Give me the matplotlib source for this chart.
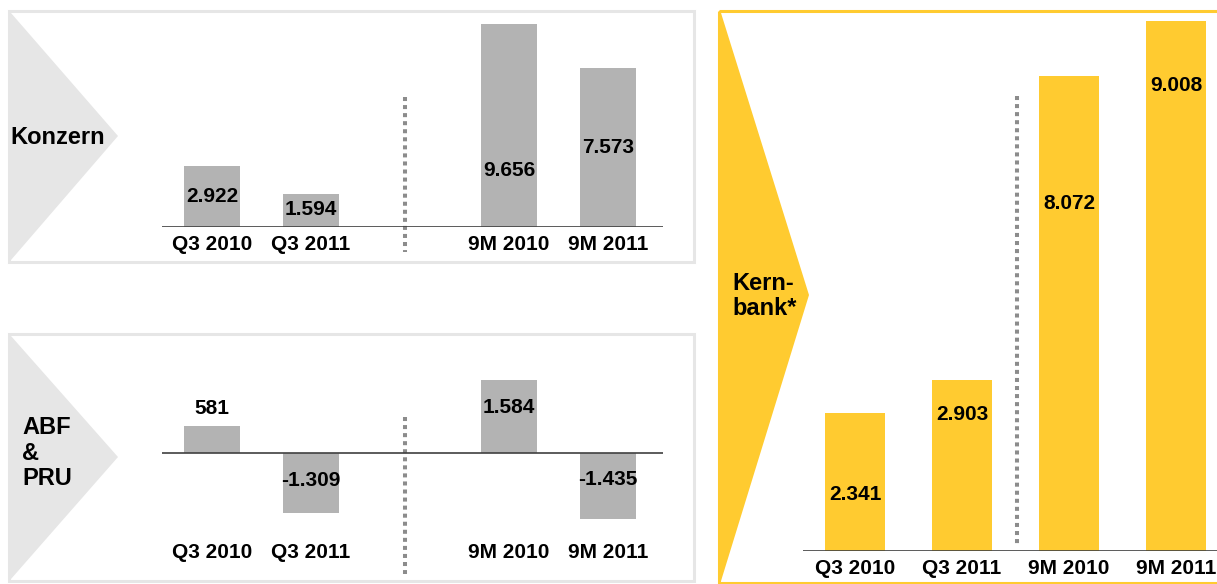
import matplotlib
matplotlib.use("Agg")
import matplotlib.pyplot as plt
from matplotlib.patches import Polygon, Rectangle
from matplotlib.lines import Line2D
from matplotlib.transforms import Affine2D, blended_transform_factory

# Data
categories = ["Q3 2010", "Q3 2011", "9M 2010", "9M 2011"]
konzern = [2.922, 1.594, 9.656, 7.573]
abf_pru = [0.581, -1.309, 1.584, -1.435]
kernbank = [2.341, 2.903, 8.072, 9.008]
konzern_labels = ["2.922", "1.594", "9.656", "7.573"]
abf_labels = ["581", "-1.309", "1.584", "-1.435"]
kernbank_labels = ["2.341", "2.903", "8.072", "9.008"]

W, H = 1217, 584
GREY_BAR = "#b3b3b3"
GREY_LIGHT = "#e6e6e6"
YELLOW = "#ffcb30"
LINE = "#404040"
DOT = "#8c8c8c"
FONT = "Liberation Sans"

plt.rcParams["font.family"] = [FONT, "DejaVu Sans"]

fig = plt.figure(figsize=(W / 100, H / 100), dpi=100)
fig.patch.set_facecolor("white")

# pixel transform, origin top-left
pxT = Affine2D().scale(1 / W, -1 / H).translate(0, 1) + fig.transFigure


def add_ax(x0, y0, x1, y1):
    ax = fig.add_axes([x0 / W, 1 - y1 / H, (x1 - x0) / W, (y1 - y0) / H])
    ax.set_facecolor("none")
    for s in ax.spines.values():
        s.set_visible(False)
    ax.set_xticks([])
    ax.set_yticks([])
    return ax


def frame(x0, y0, x1, y1, color):
    fig.add_artist(Rectangle((x0, y0), x1 - x0, y1 - y0, transform=pxT,
                             facecolor="none", edgecolor=color, lw=2.2, zorder=-1))


def chevron(pts, color):
    fig.add_artist(Polygon(pts, closed=True, transform=pxT,
                           facecolor=color, edgecolor="none", zorder=-2))


def divider(x, y0, y1):
    fig.add_artist(Line2D([x, x], [y0, y1], transform=pxT, color=DOT,
                          lw=2.9, ls=(0, (1, 1)), zorder=-1))


def panel(ax, xpos, values, labels, fracs, color, label_y_px):
    ax.bar(xpos, values, width=0.56, color=color, zorder=2)
    ax.axhline(0, color=LINE, lw=1.2, zorder=3)
    for x, v, t, f in zip(xpos, values, labels, fracs):
        ax.text(x, v * f, t, ha="center", va="center", fontsize=15,
                fontweight="bold", zorder=4)
    tr = blended_transform_factory(ax.transData, pxT)
    for x, c in zip(xpos, categories):
        ax.text(x, label_y_px, c, transform=tr, ha="center", va="center",
                fontsize=15, fontweight="bold")


# Konzern panel
frame(9, 11, 694, 262, GREY_LIGHT)
chevron([(11, 13), (118, 136), (11, 260)], GREY_LIGHT)
fig.text(10 / W, 1 - 137 / H, "Konzern", ha="left", va="center",
         fontsize=17, fontweight="bold")
ax1 = add_ax(162, 15, 663, 227)
xpos_left = [0, 1, 3, 4]
ax1.set_xlim(-0.505, 4.556)
ax1.set_ylim(0, (227 - 15) / 21)
panel(ax1, xpos_left, konzern, konzern_labels, [0.505, 0.51, 0.28, 0.497],
      GREY_BAR, 245)
divider(405, 97, 252)

# ABF & PRU panel
frame(9, 334, 694, 581, GREY_LIGHT)
chevron([(11, 336), (118, 457), (11, 579)], GREY_LIGHT)
fig.text(22 / W, 1 - 453 / H, "ABF\n&\nPRU", ha="left", va="center",
         fontsize=17, fontweight="bold", linespacing=1.15)
ax2 = add_ax(162, 340, 663, 530)
ax2.set_xlim(-0.505, 4.556)
ax2.set_ylim(-(530 - 453) / 46, (453 - 340) / 46)
panel(ax2, xpos_left, abf_pru, abf_labels, [1.68, 0.45, 0.63, 0.4],
      GREY_BAR, 553)
divider(405, 417, 574)

# Kernbank panel
frame(719, 11, 1222, 583, YELLOW)
chevron([(721, 13), (809, 295), (721, 581)], YELLOW)
fig.text(732 / W, 1 - 296 / H, "Kern-\nbank*", ha="left", va="center",
         fontsize=17, fontweight="bold", linespacing=1.1)
ax3 = add_ax(803, 15, 1217, 551)
xpos_right = [0, 1, 2, 3]
ax3.set_xlim(-0.486, 3.383)
ax3.set_ylim(0, (551 - 15) / 58.8)
panel(ax3, xpos_right, kernbank, kernbank_labels, [0.41, 0.8, 0.733, 0.878],
      YELLOW, 569)
divider(1017, 96, 547)

fig.savefig("out.png", dpi=100, facecolor="white")
